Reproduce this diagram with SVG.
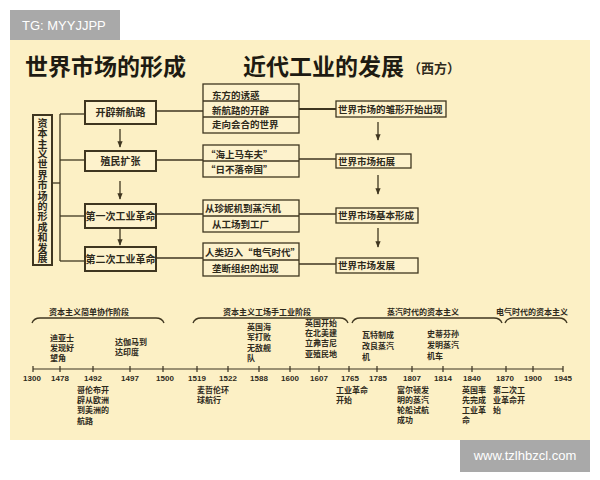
<svg xmlns="http://www.w3.org/2000/svg" width="600" height="480" viewBox="0 0 600 480">
<style>
text{font-family:"Noto Sans CJK SC","Liberation Sans",sans-serif;fill:#2e2a1c;font-weight:bold}
.title{font-size:23px;fill:#1e1b12}
.sub{font-size:13px}
.b1{font-size:10px}
.b2{font-size:9.5px}
.ev{font-size:8px}
.yr{font-size:8px;text-anchor:middle;font-family:"Liberation Sans","Noto Sans CJK SC",sans-serif}
.st{font-size:8px;text-anchor:middle}
.box{fill:#fdf2cc;stroke:#3f3620;stroke-width:2}
.gbox{fill:#fdf2cc;stroke:#3f3620;stroke-width:1.3}
.ln{stroke:#3f3620;stroke-width:1.3;fill:none}
.lt{stroke:#3f3620;stroke-width:2;fill:none}
.ax{stroke:#3a3322;stroke-width:1.2;fill:none}
.wm{font-family:"Liberation Sans",sans-serif;fill:#ffffff;font-weight:normal}
.vt{font-size:10px;writing-mode:vertical-rl;letter-spacing:0.4px}
</style>
<defs>
<marker id="ah" viewBox="0 0 10 10" refX="9" refY="5" markerWidth="5" markerHeight="5" orient="auto">
<path d="M0,1 L10,5 L0,9 z" fill="#3f3620"/>
</marker>
</defs>
<rect x="0" y="0" width="600" height="480" fill="#ffffff"/>
<rect x="10" y="40" width="580" height="400" fill="#fcf0c5"/>
<g id="tg"><rect x="10" y="10" width="110" height="30" fill="#a9a9a9"/><text class="wm" x="22" y="30" font-size="13">TG: MYYJJPP</text></g>
<g id="watermark"><rect x="460" y="440" width="130" height="32" fill="#a9a9a9"/><text class="wm" x="525" y="460" font-size="13" text-anchor="middle">www.tzlhbzcl.com</text></g>

<g id="titles">
<text class="title" x="25" y="75">世界市场的形成</text>
<text class="title" x="243" y="75">近代工业的发展</text>
<text class="sub" x="408" y="73">（西方）</text>
</g>

<g id="connectors">
<line class="ln" x1="52" y1="183" x2="60" y2="183"/>
<line class="ln" x1="60" y1="114" x2="60" y2="261"/>
<line class="ln" x1="60" y1="114" x2="85" y2="114"/>
<line class="ln" x1="60" y1="160" x2="85" y2="160"/>
<line class="ln" x1="60" y1="216" x2="85" y2="216"/>
<line class="ln" x1="60" y1="261" x2="85" y2="261"/>
<line class="ln" x1="120" y1="129" x2="120" y2="147" marker-end="url(#ah)"/>
<line class="ln" x1="120" y1="181" x2="120" y2="199" marker-end="url(#ah)"/>
<line class="ln" x1="120" y1="229" x2="120" y2="245" marker-end="url(#ah)"/>
<line class="ln" x1="156" y1="111" x2="203" y2="111"/>
<line class="ln" x1="156" y1="160" x2="203" y2="160"/>
<line class="ln" x1="156" y1="214" x2="203" y2="214"/>
<line class="ln" x1="156" y1="258" x2="203" y2="258"/>
<line class="lt" x1="299" y1="109" x2="336" y2="109"/>
<line class="ln" x1="299" y1="159" x2="336" y2="159"/>
<line class="ln" x1="299" y1="214" x2="336" y2="214"/>
<line class="ln" x1="299" y1="264" x2="336" y2="264"/>
<line class="ln" x1="378" y1="122" x2="378" y2="140" marker-end="url(#ah)"/>
<line class="ln" x1="378" y1="175" x2="378" y2="194" marker-end="url(#ah)"/>
<line class="ln" x1="378" y1="228" x2="378" y2="247" marker-end="url(#ah)"/>
</g>

<g id="vbox">
<rect class="box" x="33" y="115" width="19" height="150"/>
<text class="vt" x="42.5" y="118">资本主义世界市场的形成和发展</text>
</g>

<g id="l1"><rect class="box" x="85" y="101" width="71" height="23"/><text class="b1" x="120.5" y="116" text-anchor="middle">开辟新航路</text></g>
<g id="l2"><rect class="box" x="85" y="151" width="71" height="20"/><text class="b1" x="120.5" y="164.5" text-anchor="middle">殖民扩张</text></g>
<g id="l3"><rect class="box" x="85" y="204" width="71" height="24"/><text class="b1" x="120.5" y="219.5" text-anchor="middle">第一次工业革命</text></g>
<g id="l4"><rect class="box" x="85" y="247" width="71" height="24"/><text class="b1" x="120.5" y="262.5" text-anchor="middle">第二次工业革命</text></g>

<g id="g1">
<rect class="gbox" x="203" y="84" width="96" height="49"/>
<line class="ln" x1="203" y1="101" x2="299" y2="101"/>
<line class="ln" x1="203" y1="117" x2="299" y2="117"/>
<text class="b2" x="212" y="98.5">东方的诱惑</text>
<text class="b2" x="212" y="113.5">新航路的开辟</text>
<text class="b2" x="212" y="128">走向会合的世界</text>
</g>
<g id="g2">
<rect class="gbox" x="203" y="145" width="96" height="32"/>
<line class="ln" x1="203" y1="161" x2="299" y2="161"/>
<text class="b2" x="206" y="157.5">“海上马车夫”</text>
<text class="b2" x="206" y="172.5">“日不落帝国”</text>
</g>
<g id="g3">
<rect class="gbox" x="203" y="200" width="96" height="32"/>
<line class="ln" x1="203" y1="216" x2="299" y2="216"/>
<text class="b2" x="205" y="211.5">从珍妮机到蒸汽机</text>
<text class="b2" x="212" y="227.5">从工场到工厂</text>
</g>
<g id="g4">
<rect class="gbox" x="203" y="243" width="96" height="33"/>
<line class="ln" x1="203" y1="260" x2="299" y2="260"/>
<text class="b2" x="205" y="255.5">人类迈入“电气时代”</text>
<text class="b2" x="212" y="271.5">垄断组织的出现</text>
</g>

<g id="r1"><rect class="gbox" x="336" y="101" width="110" height="16"/><text class="b2" x="338" y="112.5">世界市场的雏形开始出现</text></g>
<g id="r2"><rect class="gbox" x="336" y="154" width="75" height="14"/><text class="b2" x="338" y="164.5">世界市场拓展</text></g>
<g id="r3"><rect class="gbox" x="336" y="208" width="82" height="15"/><text class="b2" x="338" y="219">世界市场基本形成</text></g>
<g id="r4"><rect class="gbox" x="336" y="258" width="82" height="15"/><text class="b2" x="338" y="269">世界市场发展</text></g>

<g id="stages">
<path class="ln" d="M32,323 Q34,318 40,318 L156,318 Q162,318 164,323"/>
<text class="st" x="89" y="315">资本主义简单协作阶段</text>
<path class="ln" d="M193,323 Q195,318 201,318 L340,318 Q346,318 348,323"/>
<text class="st" x="267" y="315">资本主义工场手工业阶段</text>
<path class="ln" d="M352,323 Q354,318 360,318 L494,318 Q500,318 502,323"/>
<text class="st" x="423" y="315">蒸汽时代的资本主义</text>
<path class="ln" d="M505,323 Q507,318 513,318 L559,318 Q565,318 567,323"/>
<text class="st" x="532" y="315">电气时代的资本主义</text>
</g>

<g id="axis">
<line class="ax" x1="33" y1="369" x2="563" y2="369"/>
<path class="ax" d="M33,366v6M60,366v6M93,366v6M130,366v6M163,366v6M197,366v6M228,366v6M259,366v6M290,366v6M319,366v6M349,366v6M377,366v6M412,366v6M443,366v6M472,366v6M506,366v6M533,366v6M563,366v6"/>
<text class="yr" x="32" y="381">1300</text>
<text class="yr" x="60" y="381">1478</text>
<text class="yr" x="93" y="381">1492</text>
<text class="yr" x="130" y="381">1497</text>
<text class="yr" x="165" y="381">1500</text>
<text class="yr" x="197" y="381">1519</text>
<text class="yr" x="228" y="381">1522</text>
<text class="yr" x="259" y="381">1588</text>
<text class="yr" x="290" y="381">1600</text>
<text class="yr" x="319" y="381">1607</text>
<text class="yr" x="350" y="381">1765</text>
<text class="yr" x="378" y="381">1785</text>
<text class="yr" x="412" y="381">1807</text>
<text class="yr" x="443" y="381">1814</text>
<text class="yr" x="472" y="381">1840</text>
<text class="yr" x="505" y="381">1870</text>
<text class="yr" x="533" y="381">1900</text>
<text class="yr" x="563" y="381">1945</text>
</g>

<g id="events">
<text class="ev"><tspan x="50" y="341">迪亚士</tspan><tspan x="50" y="351">发现好</tspan><tspan x="50" y="361">望角</tspan></text>
<text class="ev"><tspan x="115" y="345">达伽马到</tspan><tspan x="115" y="355">达印度</tspan></text>
<text class="ev"><tspan x="77" y="393">哥伦布开</tspan><tspan x="77" y="403">辟从欧洲</tspan><tspan x="77" y="413">到美洲的</tspan><tspan x="77" y="424">航路</tspan></text>
<text class="ev"><tspan x="197" y="393">麦哲伦环</tspan><tspan x="197" y="403">球航行</tspan></text>
<text class="ev"><tspan x="247" y="330">英国海</tspan><tspan x="247" y="340">军打败</tspan><tspan x="247" y="351">无敌舰</tspan><tspan x="247" y="361">队</tspan></text>
<text class="ev"><tspan x="305" y="326">英国开始</tspan><tspan x="305" y="336">在北美建</tspan><tspan x="305" y="346">立弗吉尼</tspan><tspan x="305" y="357">亚殖民地</tspan></text>
<text class="ev"><tspan x="336" y="393">工业革命</tspan><tspan x="336" y="403">开始</tspan></text>
<text class="ev"><tspan x="362" y="338">瓦特制成</tspan><tspan x="362" y="349">改良蒸汽</tspan><tspan x="362" y="360">机</tspan></text>
<text class="ev"><tspan x="427" y="337">史蒂芬孙</tspan><tspan x="427" y="348">发明蒸汽</tspan><tspan x="427" y="359">机车</tspan></text>
<text class="ev"><tspan x="397" y="393">富尔顿发</tspan><tspan x="397" y="403">明的蒸汽</tspan><tspan x="397" y="413">轮船试航</tspan><tspan x="397" y="423">成功</tspan></text>
<text class="ev"><tspan x="462" y="393">英国率</tspan><tspan x="462" y="403">先完成</tspan><tspan x="462" y="413">工业革</tspan><tspan x="462" y="423">命</tspan></text>
<text class="ev"><tspan x="493" y="393">第二次工</tspan><tspan x="493" y="403">业革命开</tspan><tspan x="493" y="413">始</tspan></text>
</g>
</svg>
